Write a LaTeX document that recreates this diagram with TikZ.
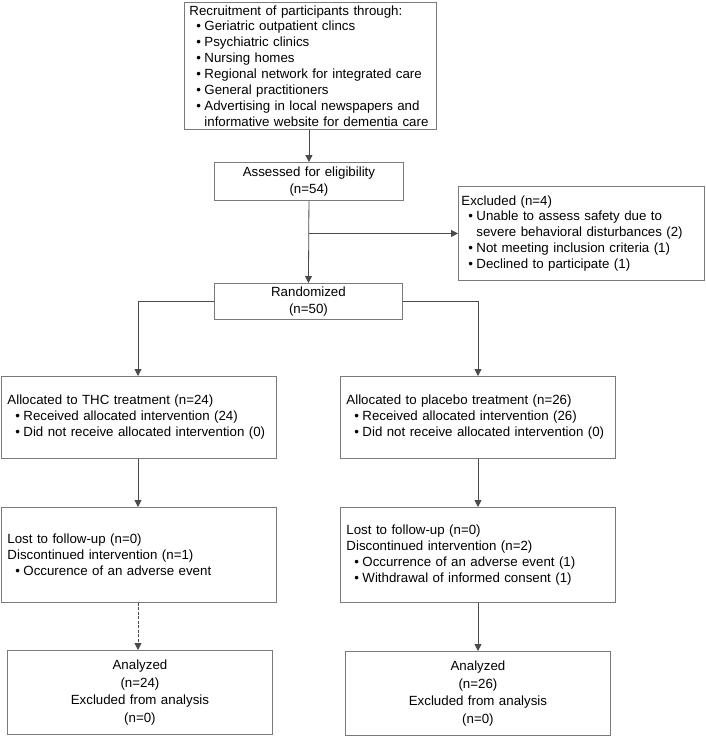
\documentclass[tikz,border=0pt]{standalone}
\usepackage{fontspec}
\setmainfont{Liberation Sans}
\usetikzlibrary{arrows.meta}
\definecolor{boxgray}{HTML}{7A7A7A}
\definecolor{linegray}{HTML}{4A4A4A}
\newcommand{\bulA}{\hspace*{7pt}\makebox[8pt][l]{•}}
\newcommand{\bulB}{\hspace*{8pt}\makebox[8pt][l]{•}}
\newcommand{\contA}{\hspace*{15pt}}
\tikzset{
  box/.style={draw=boxgray, line width=0.9pt, anchor=north west, inner xsep=5pt, inner ysep=0pt,
    font=\fontsize{13.3}{15.9}\selectfont},
  listbox/.style={box, align=left},
  cbox/.style={box, align=center, font=\fontsize{13.3}{17.5}\selectfont},
  conn/.style={draw=linegray, line width=0.8pt},
  arr/.style={conn, -{Triangle[width=7pt,length=7pt]}},
}
\begin{document}
\begin{tikzpicture}[x=1pt,y=-1pt]
\useasboundingbox (0,0) rectangle (706,737);
\fill[white] (0,0) rectangle (706,737);

\node[listbox, minimum width=252pt, minimum height=127pt, text width=242pt] (rec) at (184,2)
 {Recruitment of participants through:\\
  \bulA Geriatric outpatient clincs\\
  \bulA Psychiatric clinics\\
  \bulA Nursing homes\\
  \bulA Regional network for integrated care\\
  \bulA General practitioners\\
  \bulA Advertising in local newspapers and\\
  \contA informative website for dementia care};

\node[cbox, minimum width=189pt, minimum height=38pt, text width=179pt] (assess) at (214,162)
 {Assessed for eligibility\\(n=54)};

\node[listbox, minimum width=246pt, minimum height=94pt, text width=240pt, inner xsep=3pt] (excl) at (458,186)
 {Excluded (n=4)\\
  \bulA Unable to assess safety due to\\
  \contA severe behavioral disturbances (2)\\
  \bulA Not meeting inclusion criteria (1)\\
  \bulA Declined to participate (1)};

\node[cbox, minimum width=188pt, minimum height=36pt, text width=178pt] (rand) at (214,283)
 {Randomized\\(n=50)};

\node[listbox, minimum width=275pt, minimum height=82pt, text width=263pt, inner xsep=6pt] (thc) at (1,376)
 {Allocated to THC treatment (n=24)\\
  \bulB Received allocated intervention (24)\\
  \bulB Did not receive allocated intervention (0)};

\node[listbox, minimum width=275pt, minimum height=82pt, text width=263pt, inner xsep=6pt] (plc) at (340,376)
 {Allocated to placebo treatment (n=26)\\
  \bulB Received allocated intervention (26)\\
  \bulB Did not receive allocated intervention (0)};

\node[listbox, minimum width=275pt, minimum height=95pt, text width=263pt, inner xsep=6pt] (lost1) at (1,507)
 {Lost to follow-up (n=0)\\
  Discontinued intervention (n=1)\\
  \bulB Occurence of an adverse event};

\node[listbox, minimum width=275pt, minimum height=95pt, text width=263pt, inner xsep=6pt] (lost2) at (340,507)
 {Lost to follow-up (n=0)\\
  Discontinued intervention (n=2)\\
  \bulB Occurrence of an adverse event (1)\\
  \bulB Withdrawal of informed consent (1)};

\node[cbox, minimum width=265pt, minimum height=84pt, text width=255pt] (an1) at (7,650)
 {Analyzed\\(n=24)\\Excluded from analysis\\(n=0)};

\node[cbox, minimum width=265pt, minimum height=84pt, text width=255pt] (an2) at (345,651)
 {Analyzed\\(n=26)\\Excluded from analysis\\(n=0)};

\coordinate (cl) at (138,0);
\coordinate (cr) at (478,0);

\draw[arr] (rec.south -| assess.north) -- (assess.north);
\draw[arr] (assess.south) -- (rand.north);
\draw[arr] (assess.south |- excl.west) -- (excl.west);
\draw[arr] (rand.west) -| (thc.north -| cl);
\draw[arr] (rand.east) -| (plc.north -| cr);
\draw[arr] (thc.south -| cl) -- (lost1.north -| cl);
\draw[arr] (plc.south -| cr) -- (lost2.north -| cr);
\draw[arr, dash pattern=on 3pt off 1.5pt] (lost1.south -| cl) -- (an1.north -| cl);
\draw[arr] (lost2.south -| cr) -- (an2.north -| cr);
\end{tikzpicture}
\end{document}
